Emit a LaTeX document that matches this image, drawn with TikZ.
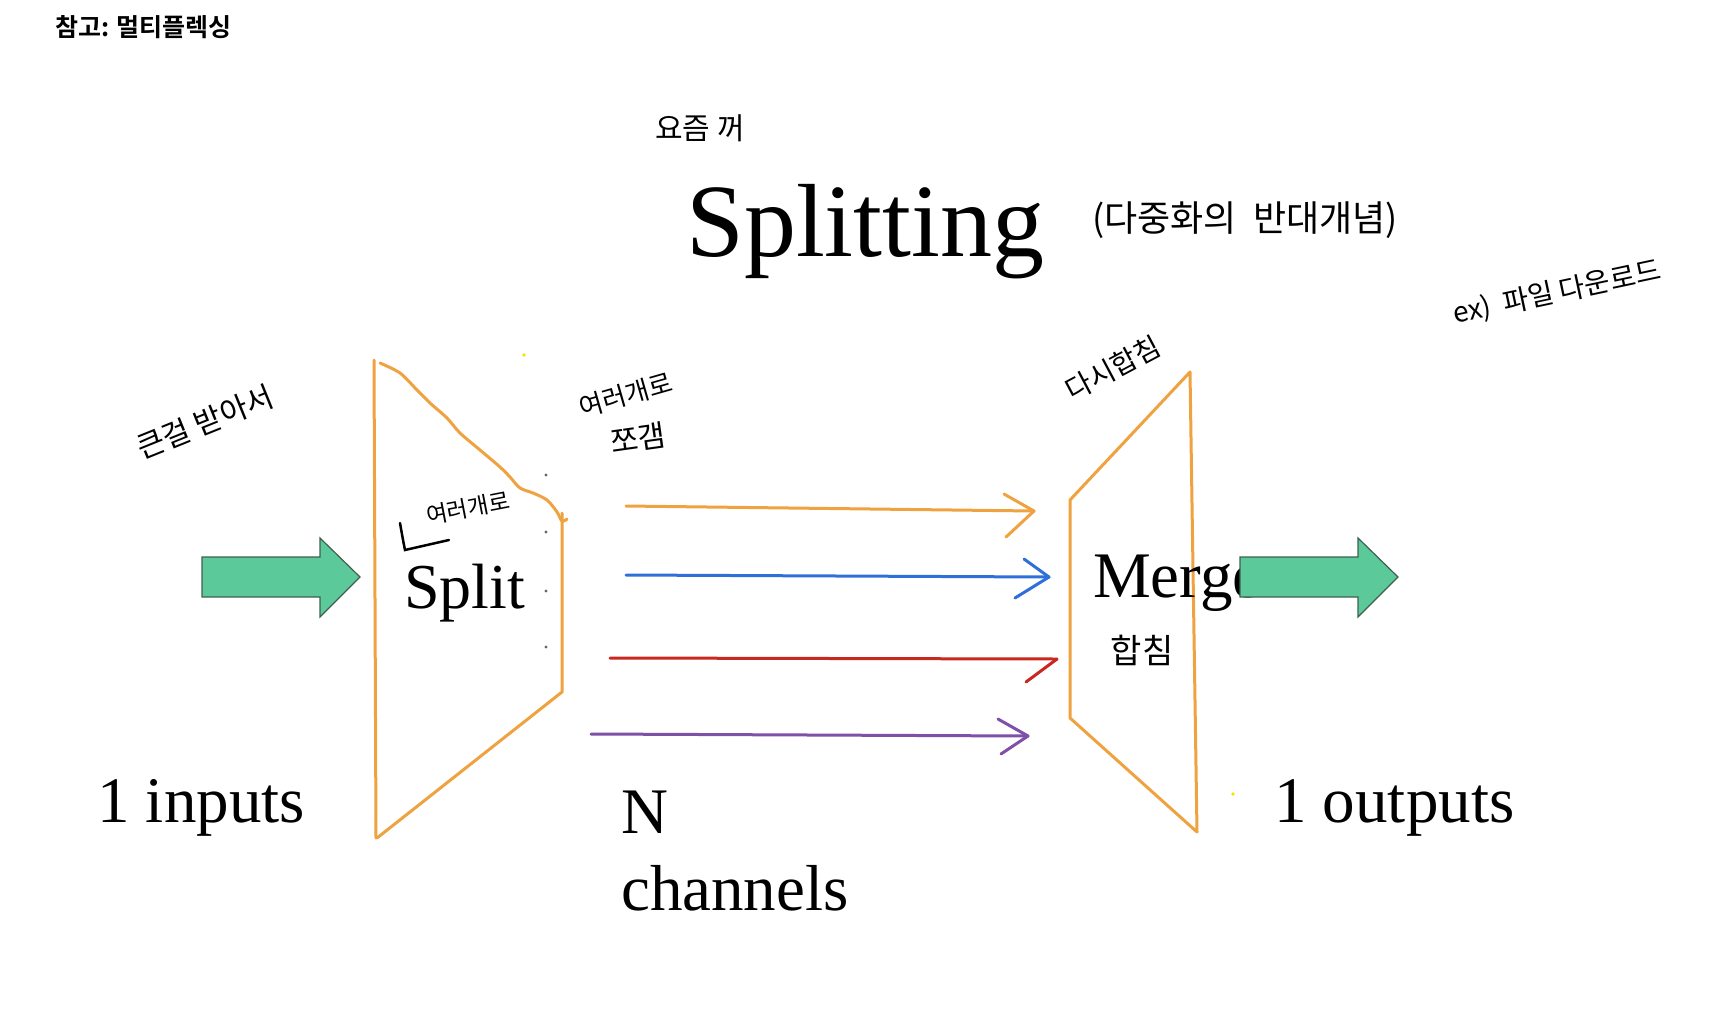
\documentclass[tikz,border=0pt]{standalone}
\usepackage{fontspec}
\setmainfont{Liberation Serif}
\newfontfamily\kr{Noto Sans CJK KR}
\newfontfamily\krb{Noto Sans CJK KR Bold}
\definecolor{boxorange}{HTML}{EFA240}
\definecolor{arrowgreen}{HTML}{5CC99B}
\definecolor{arrowedge}{HTML}{3F5F50}
\definecolor{chblue}{HTML}{2F6FD8}
\definecolor{chred}{HTML}{C8281E}
\definecolor{chpurple}{HTML}{7E50A8}
\tikzset{
  txt/.style={inner sep=0pt, anchor=base west},
  hand/.style={inner sep=0pt, font=\kr},
  funnel/.style={draw=boxorange, line width=3pt, line join=round, line cap=round},
  channel/.style={line width=3pt, line cap=round, line join=round},
  fatarrow/.style={fill=arrowgreen, draw=arrowedge, line width=1.2pt}
}
\begin{document}
\begin{tikzpicture}[x=1pt, y=-1pt]
\useasboundingbox (0,0) rectangle (1730,1026);

% heading
\node[inner sep=0pt, anchor=west, font=\krb\fontsize{25}{30}\selectfont] (head) at (55,27) {참고: 멀티플렉싱};
\node[txt, font=\fontsize{104}{110}\selectfont] (title) at (686,256) {Splitting};
\node[hand, font=\kr\fontsize{30}{34}\selectfont] (recent) at (700,128) {요즘 꺼};
\node[hand, font=\kr\fontsize{36}{40}\selectfont] (opposite) at (1245,220) {(다중화의\ \ 반대개념)};
\node[hand, font=\kr\fontsize{28}{32}\selectfont, rotate=12] (example) at (1557,293) {ex)\ \ 파일 다운로드};

% split side
\draw[funnel] (376,838) -- (374,360);
\draw[funnel] plot[smooth] coordinates {(380,363) (400,373) (417,390) (430,403) (447,418) (460,433) (480,450) (500,467) (510,477) (520,488) (533,493) (547,500) (557,512) (562,521) (567,519)};
\draw[funnel] (562,513) -- (562,692) -- (377,838);
\node[txt, font=\fontsize{64}{70}\selectfont] (split) at (404,608) {Split};
\node[hand, font=\kr\fontsize{23}{26}\selectfont, rotate=11] (several) at (468,508) {여러개로};
\draw[line width=2.5pt, line cap=round] (400,523) .. controls (403,540) .. (405,550) -- (449,540);
\node[hand, font=\kr\fontsize{30}{34}\selectfont, rotate=22] (bigone) at (205,422) {큰걸 받아서};
\node[hand, font=\kr\fontsize{26}{30}\selectfont, rotate=16] (many) at (626,395) {여러개로};
\node[hand, font=\kr\fontsize{30}{34}\selectfont, rotate=8] (cut) at (638,438) {쪼갬};
\foreach \y in {475,532,591,647}
  \fill[black!60] (546,\y) circle (1.6);
\fill[yellow!80!orange] (524,355) circle (1.8);
\fill[yellow!80!orange] (1233,794) circle (1.8);

% channels
\coordinate (o1) at (626,506); \coordinate (o2) at (1034,511);
\coordinate (b1) at (626,575); \coordinate (b2) at (1049,577);
\coordinate (r1) at (610,658); \coordinate (r2) at (1057,659);
\coordinate (p1) at (591,734); \coordinate (p2) at (1028,736);
\draw[channel, boxorange] (o1) -- (o2);
\draw[channel, boxorange] (1004,494) -- (o2) -- (1006,537);
\draw[channel, chblue] (b1) -- (b2);
\draw[channel, chblue] (1024,559) -- (b2) -- (1015,598);
\draw[channel, chred] (r1) -- (r2);
\draw[channel, chred] (r2) -- (1026,682);
\draw[channel, chpurple] (p1) -- (p2);
\draw[channel, chpurple] (998,719) -- (p2) -- (1001,754);

% merge side
\draw[funnel] (1190,372) -- (1197,832) -- (1070,718) -- (1070,500) -- cycle;
\node[txt, font=\fontsize{65}{70}\selectfont] (merge) at (1093,597) {Merge};
\node[hand, font=\kr\fontsize{34}{38}\selectfont] (join) at (1142,650) {합침};
\node[hand, font=\kr\fontsize{28}{32}\selectfont, rotate=28] (rejoin) at (1113,368) {다시합침};

% big arrows
\draw[fatarrow] (202,557) -- (320,557) -- (320,538) -- (360,577) -- (320,617) -- (320,597) -- (202,597) -- cycle;
\draw[fatarrow] (1240,557) -- (1358,557) -- (1358,538) -- (1398,577) -- (1358,617) -- (1358,597) -- (1240,597) -- cycle;

% labels
\node[txt, font=\fontsize{65}{70}\selectfont] (inputs) at (97,822) {1 inputs};
\node[txt, font=\fontsize{65}{70}\selectfont] (outputs) at (1274,822) {1 outputs};
\node[txt, font=\fontsize{65}{70}\selectfont] (nlab) at (621,833) {N};
\node[txt, font=\fontsize{65}{70}\selectfont] (chan) at (621,910) {channels};
\end{tikzpicture}
\end{document}
